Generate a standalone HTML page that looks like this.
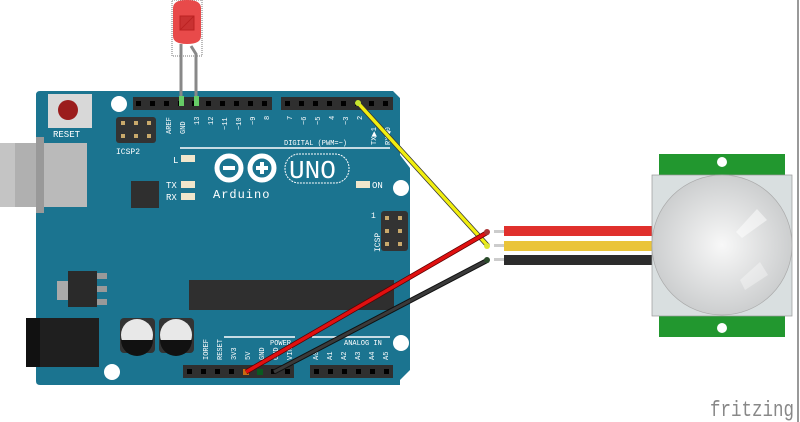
<!DOCTYPE html>
<html><head><meta charset="utf-8"><style>
html,body{margin:0;padding:0;background:#fff;width:800px;height:422px;overflow:hidden}
svg text{font-family:"Liberation Mono",monospace}
</style></head><body>
<svg width="800" height="422" viewBox="0 0 800 422" xmlns="http://www.w3.org/2000/svg">
<defs>
<radialGradient id="dome" cx="0.5" cy="0.5" r="0.55">
<stop offset="0" stop-color="#f8f8f8"/><stop offset="1" stop-color="#c8cacb"/>
</radialGradient>
</defs>
<path d="M40,91 L393,91 L400,98 L400,155 L410,168 L410,370 L400,380 L400,385 L40,385 Q36,385 36,381 L36,95 Q36,91 40,91 Z" fill="#1b7490"/>
<rect x="0" y="143" width="87" height="64" fill="#b0b0b0"/>
<rect x="0" y="143" width="15" height="64" fill="#c4c4c4"/>
<rect x="36" y="137" width="8" height="76" fill="#999"/>
<rect x="44" y="143" width="43" height="64" fill="#bababa"/>
<rect x="48" y="94" width="44" height="34" fill="#d8d8d8"/>
<circle cx="68" cy="110" r="10" fill="#9b1c1c"/>
<text x="53" y="137" font-size="9" fill="#fff">RESET</text>
<rect x="116" y="117" width="40" height="26" rx="3" fill="#333"/>
<g fill="#c9a96b"><rect x="121" y="121" width="4" height="4"/><rect x="134" y="121" width="4" height="4"/><rect x="147" y="121" width="4" height="4"/><rect x="121" y="134" width="4" height="4"/><rect x="134" y="134" width="4" height="4"/><rect x="147" y="134" width="4" height="4"/></g>
<text x="116" y="154" font-size="8" fill="#fff">ICSP2</text>
<circle cx="119" cy="104" r="8" fill="#fff"/>
<circle cx="401" cy="188" r="8" fill="#fff"/>
<circle cx="401" cy="343" r="8" fill="#fff"/>
<circle cx="112" cy="372" r="8" fill="#fff"/>
<rect x="133" y="97" width="139" height="13" fill="#2f2f2f"/>
<rect x="281" y="97" width="112" height="13" fill="#2f2f2f"/>
<g fill="#000">
<rect x="136" y="101" width="5" height="5"/><rect x="150" y="101" width="5" height="5"/><rect x="164" y="101" width="5" height="5"/><rect x="178" y="101" width="5" height="5"/><rect x="192" y="101" width="5" height="5"/><rect x="206" y="101" width="5" height="5"/><rect x="220" y="101" width="5" height="5"/><rect x="234" y="101" width="5" height="5"/><rect x="248" y="101" width="5" height="5"/><rect x="262" y="101" width="5" height="5"/>
<rect x="285" y="101" width="5" height="5"/><rect x="299" y="101" width="5" height="5"/><rect x="313" y="101" width="5" height="5"/><rect x="327" y="101" width="5" height="5"/><rect x="341" y="101" width="5" height="5"/><rect x="355" y="101" width="5" height="5"/><rect x="369" y="101" width="5" height="5"/><rect x="383" y="101" width="5" height="5"/>
</g>
<g font-size="7" fill="#fff">
<text transform="translate(171,134) rotate(-90)">AREF</text>
<text transform="translate(185,134) rotate(-90)">GND</text>
<text transform="translate(199,125) rotate(-90)">13</text>
<text transform="translate(213,125) rotate(-90)">12</text>
<text transform="translate(227,130) rotate(-90)">~11</text>
<text transform="translate(241,130) rotate(-90)">~10</text>
<text transform="translate(255,125) rotate(-90)">~9</text>
<text transform="translate(269,120) rotate(-90)">8</text>
<text transform="translate(292,120) rotate(-90)">7</text>
<text transform="translate(306,125) rotate(-90)">~6</text>
<text transform="translate(320,125) rotate(-90)">~5</text>
<text transform="translate(334,120) rotate(-90)">4</text>
<text transform="translate(348,125) rotate(-90)">~3</text>
<text transform="translate(362,120) rotate(-90)">2</text>
<text transform="translate(376,145) rotate(-90)">TX▶1</text>
<text transform="translate(390,145) rotate(-90)">RX◀0</text>
<text x="284" y="145">DIGITAL (PWM=~)</text>
</g>
<line x1="180" y1="148" x2="390" y2="148" stroke="#fff" stroke-width="1.5"/>
<text x="173" y="163" font-size="9" fill="#fff">L</text>
<rect x="181" y="155" width="14" height="7" fill="#f0e6cc"/>
<text x="166" y="188" font-size="9" fill="#fff">TX</text>
<rect x="181" y="181" width="14" height="7" fill="#f0e6cc"/>
<text x="166" y="200" font-size="9" fill="#fff">RX</text>
<rect x="181" y="193" width="14" height="7" fill="#f0e6cc"/>
<rect x="356" y="181" width="14" height="7" fill="#f0e6cc"/>
<text x="372" y="188" font-size="9" fill="#fff">ON</text>
<rect x="131" y="181" width="28" height="27" fill="#2f2f2f"/>
<g fill="none" stroke="#fff" stroke-width="5">
<circle cx="229" cy="168" r="12"/><circle cx="262" cy="168" r="12"/>
</g>
<g fill="#fff"><rect x="223" y="166" width="12" height="4"/><rect x="256" y="166" width="12" height="4"/><rect x="260" y="162" width="4" height="12"/></g>
<rect x="285" y="154" width="64" height="29" rx="14" fill="none" stroke="#fff" stroke-width="1" stroke-dasharray="2,1"/>
<text x="289" y="178" font-size="26" fill="#fff" font-family="Liberation Sans,sans-serif">UNO</text>
<text x="213" y="198" font-size="12" fill="#fff" font-family="Liberation Sans,sans-serif" letter-spacing="1">Arduino</text>
<rect x="381" y="211" width="27" height="40" rx="3" fill="#333"/>
<g fill="#c9a96b"><rect x="385" y="216" width="4" height="4"/><rect x="398" y="216" width="4" height="4"/><rect x="385" y="229" width="4" height="4"/><rect x="398" y="229" width="4" height="4"/><rect x="385" y="242" width="4" height="4"/><rect x="398" y="242" width="4" height="4"/></g>
<text transform="translate(380,252) rotate(-90)" font-size="8" fill="#fff">ICSP</text>
<text x="371" y="218" font-size="8" fill="#fff">1</text>
<rect x="189" y="280" width="205" height="30" fill="#2f2f2f"/>
<rect x="57" y="281" width="12" height="19" fill="#aaa"/>
<rect x="68" y="271" width="29" height="36" fill="#2a2a2a"/>
<g fill="#999"><rect x="97" y="273" width="10" height="6"/><rect x="97" y="286" width="10" height="6"/><rect x="97" y="299" width="10" height="6"/></g>
<rect x="26" y="318" width="73" height="49" fill="#1f1f1f"/>
<rect x="26" y="318" width="14" height="49" fill="#111"/>
<rect x="120" y="318" width="35" height="35" rx="4" fill="#333"/>
<circle cx="137" cy="335" r="16" fill="#e8e8e8"/>
<path d="M121,340 L153,340 A16,16 0 0 1 121,340 Z" fill="#111"/>
<rect x="159" y="318" width="35" height="35" rx="4" fill="#333"/>
<circle cx="176" cy="335" r="16" fill="#e8e8e8"/>
<path d="M160,340 L192,340 A16,16 0 0 1 160,340 Z" fill="#111"/>
<g font-size="7" fill="#fff">
<text transform="translate(208,360) rotate(-90)">IOREF</text>
<text transform="translate(222,360) rotate(-90)">RESET</text>
<text transform="translate(236,360) rotate(-90)">3V3</text>
<text transform="translate(250,360) rotate(-90)">5V</text>
<text transform="translate(264,360) rotate(-90)">GND</text>
<text transform="translate(278,360) rotate(-90)">GND</text>
<text transform="translate(292,360) rotate(-90)">VIN</text>
<text transform="translate(318,360) rotate(-90)">A0</text>
<text transform="translate(332,360) rotate(-90)">A1</text>
<text transform="translate(346,360) rotate(-90)">A2</text>
<text transform="translate(360,360) rotate(-90)">A3</text>
<text transform="translate(374,360) rotate(-90)">A4</text>
<text transform="translate(388,360) rotate(-90)">A5</text>
<text x="270" y="345">POWER</text>
<text x="344" y="345">ANALOG IN</text>
</g>
<line x1="224" y1="337" x2="295" y2="337" stroke="#fff" stroke-width="1.5"/>
<line x1="312" y1="337" x2="390" y2="337" stroke="#fff" stroke-width="1.5"/>
<rect x="183" y="365" width="111" height="13" fill="#2f2f2f"/>
<rect x="310" y="365" width="83" height="13" fill="#2f2f2f"/>
<g fill="#000">
<rect x="187" y="369" width="5" height="5"/><rect x="201" y="369" width="5" height="5"/><rect x="215" y="369" width="5" height="5"/><rect x="229" y="369" width="5" height="5"/><rect x="271" y="369" width="5" height="5"/><rect x="285" y="369" width="5" height="5"/>
<rect x="314" y="369" width="5" height="5"/><rect x="328" y="369" width="5" height="5"/><rect x="342" y="369" width="5" height="5"/><rect x="356" y="369" width="5" height="5"/><rect x="370" y="369" width="5" height="5"/><rect x="384" y="369" width="5" height="5"/>
</g>
<rect x="243" y="369" width="6" height="6" fill="#c86a10"/>
<rect x="257" y="369" width="6" height="6" fill="#0a5a20"/>
<rect x="172" y="0" width="30" height="56" fill="none" stroke="#777" stroke-width="1" stroke-dasharray="1,1"/>
<line x1="181" y1="44" x2="181" y2="104" stroke="#888" stroke-width="3"/>
<path d="M191,46 L196,54 L196,104" fill="none" stroke="#888" stroke-width="3"/>
<rect x="179" y="96" width="5" height="10" fill="#6c6"/>
<rect x="194" y="96" width="5" height="10" fill="#6c6"/>
<path d="M173,8 Q173,0 187,0 Q201,0 201,8 L201,36 Q201,44 187,44 Q173,44 173,36 Z" fill="#e84a4a"/>
<path d="M180,16 L194,16 L194,30 L180,30 Z M180,30 L194,16" fill="#c93232" stroke="#b22" stroke-width="1"/>
<line x1="358" y1="103" x2="488" y2="246" stroke="#333" stroke-width="5"/>
<line x1="358" y1="103" x2="488" y2="246" stroke="#f1ee10" stroke-width="3.5"/>
<line x1="246" y1="372" x2="488" y2="232" stroke="#5a0000" stroke-width="5"/>
<line x1="246" y1="372" x2="488" y2="232" stroke="#e01010" stroke-width="3.5"/>
<line x1="274" y1="372" x2="488" y2="260" stroke="#111" stroke-width="5"/>
<line x1="274" y1="372" x2="488" y2="260" stroke="#3a3a3a" stroke-width="3"/>
<circle cx="358" cy="103" r="3" fill="#c8e630"/>
<circle cx="487" cy="232" r="3" fill="#a33"/>
<circle cx="487" cy="246" r="3" fill="#dfe630"/>
<circle cx="487" cy="260" r="3" fill="#2a4a2a"/>
<rect x="494" y="230" width="10" height="3" fill="#ccc"/>
<rect x="494" y="244" width="10" height="3" fill="#ccc"/>
<rect x="494" y="258" width="10" height="3" fill="#ccc"/>
<rect x="504" y="226" width="149" height="10" fill="#e0302c"/>
<rect x="504" y="241" width="149" height="10" fill="#eac43a"/>
<rect x="504" y="255" width="149" height="10" fill="#2c2c2c"/>
<rect x="659" y="154" width="126" height="21" fill="#22972f"/>
<rect x="659" y="316" width="126" height="21" fill="#22972f"/>
<circle cx="722" cy="162" r="5" fill="#fff"/>
<circle cx="722" cy="328" r="5" fill="#fff"/>
<rect x="652" y="175" width="140" height="141" fill="#d9dfe0" stroke="#999" stroke-width="0.7"/>
<circle cx="722" cy="245" r="70" fill="url(#dome)" stroke="#aaa" stroke-width="0.7"/>
<path d="M736,232 L757,209 L767,220 L742,238 Z" fill="#fff" opacity="0.5"/>
<path d="M740,280 L760,262 L768,275 L745,290 Z" fill="#fff" opacity="0.35"/>
<line x1="798" y1="0" x2="798" y2="422" stroke="#333" stroke-width="1"/>
<text x="710" y="416" font-size="22" fill="#888" textLength="84" lengthAdjust="spacingAndGlyphs">fritzing</text>
</svg>
</body></html>
